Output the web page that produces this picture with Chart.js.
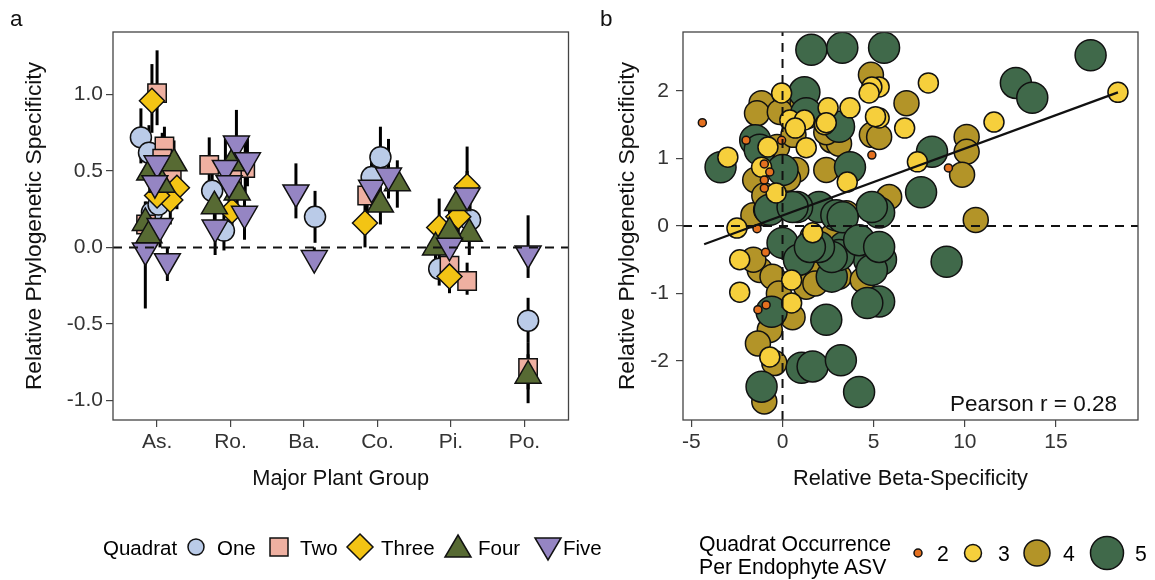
<!DOCTYPE html>
<html><head><meta charset="utf-8">
<script src="https://cdn.jsdelivr.net/npm/chart.js@4.4.0/dist/chart.umd.min.js"></script>
<style>
body{margin:0;background:#fff;width:1155px;height:580px;position:relative;overflow:hidden;font-family:'Liberation Sans',Arial,sans-serif;color:#111}
canvas{position:absolute;top:0}
#ca{left:0}
#cb{left:590px}
.lbl{position:absolute;font-size:22.5px;line-height:1}
svg{position:absolute;left:0;top:0}
</style></head><body>
<canvas id="ca" width="585" height="500"></canvas>
<canvas id="cb" width="565" height="500"></canvas>
<div class="lbl" style="left:10px;top:8px">a</div>
<div class="lbl" style="left:600px;top:8px">b</div>
<div class="lbl" style="left:950px;top:393px">Pearson r = 0.28</div>
<svg width="1155" height="580" font-family="Liberation Sans, Arial, sans-serif" font-size="20.5">
  <g stroke="#111" stroke-width="1.5">
    <text x="103" y="547" dominant-baseline="central" stroke="none">Quadrat</text>
    <circle cx="196" cy="547" r="8" fill="#bacbe8"/>
    <text x="217" y="547" dominant-baseline="central" stroke="none">One</text>
    <rect x="270" y="538" width="18" height="18" fill="#efb0a1"/>
    <text x="300" y="547" dominant-baseline="central" stroke="none">Two</text>
    <polygon points="360,534 373,547 360,560 347,547" fill="#f3c414"/>
    <text x="381" y="547" dominant-baseline="central" stroke="none">Three</text>
    <polygon points="458,535 471,557 445,557" fill="#576a33"/>
    <text x="478" y="547" dominant-baseline="central" stroke="none">Four</text>
    <polygon points="535,538 561,538 548,560" fill="#9585c3"/>
    <text x="563" y="547" dominant-baseline="central" stroke="none">Five</text>
  </g>
  <g stroke="#111" stroke-width="1.5" font-size="21.2">
    <text x="699" y="543" dominant-baseline="central" stroke="none">Quadrat Occurrence</text>
    <text x="699" y="566" dominant-baseline="central" stroke="none">Per Endophyte ASV</text>
    <circle cx="918" cy="553" r="4" fill="#e4701f"/>
    <text x="937" y="553" dominant-baseline="central" stroke="none">2</text>
    <circle cx="973" cy="553" r="8.5" fill="#f6cf3c"/>
    <text x="998" y="553" dominant-baseline="central" stroke="none">3</text>
    <circle cx="1037" cy="553" r="13" fill="#b39428"/>
    <text x="1063" y="553" dominant-baseline="central" stroke="none">4</text>
    <circle cx="1107" cy="553" r="16.5" fill="#40694a"/>
    <text x="1135" y="553" dominant-baseline="central" stroke="none">5</text>
  </g>
</svg>
<script>
Chart.defaults.font.family = "'Liberation Sans', Arial, sans-serif";
Chart.defaults.color = '#333';

// ---- panel a : specificity by plant group and quadrat ----
const groups = ["As.", "Ro.", "Ba.", "Co.", "Pi.", "Po."];
const yTicksA = [-1.0, -0.5, 0.0, 0.5, 1.0];

// x = group number + jitter, y = estimate, lo/hi = error bar ends
const oneX  = [0.78, 0.89, 0.93, 1.02, 1.75, 1.91, 3.15, 4.04, 3.92, 5.26, 4.84, 6.05];
const oneY  = [0.72, 0.62, 0.23, 0.28, 0.37, 0.11, 0.20, 0.59, 0.46, 0.18, -0.14, -0.48];
const oneLo = [0.55, 0.45, 0.10, 0.15, 0.22, -0.02, 0.03, 0.45, 0.32, 0.05, -0.25, -0.62];
const oneHi = [0.91, 0.80, 0.36, 0.42, 0.50, 0.25, 0.37, 0.79, 0.60, 0.30, -0.03, -0.33];

const twoX  = [1.00, 1.10, 1.20, 0.85, 1.07, 1.71, 2.20, 2.02, 3.86, 4.98, 5.22, 6.05];
const twoY  = [1.01, 0.66, 0.47, 0.15, 0.58, 0.54, 0.52, 0.47, 0.34, -0.12, -0.22, -0.79];
const twoLo = [0.80, 0.50, 0.33, 0.00, 0.45, 0.40, 0.35, 0.30, 0.20, -0.25, -0.31, -0.93];
const twoHi = [1.29, 0.79, 0.72, 0.30, 0.75, 0.72, 0.72, 0.60, 0.50, 0.02, -0.10, -0.62];

const threeX  = [0.93, 1.27, 1.18, 1.00, 2.02, 3.83, 5.22, 5.10, 4.84, 4.98];
const threeY  = [0.96, 0.39, 0.31, 0.34, 0.24, 0.16, 0.40, 0.20, 0.13, -0.19];
const threeLo = [0.75, 0.25, 0.15, 0.20, 0.10, 0.00, 0.22, 0.05, -0.05, -0.30];
const threeHi = [1.20, 0.60, 0.50, 0.55, 0.40, 0.38, 0.66, 0.35, 0.32, -0.05];

const fourX  = [0.84, 0.89, 0.90, 1.23, 1.07, 2.02, 2.09, 1.78, 4.27, 4.04, 5.09, 5.25, 4.98, 4.79, 6.05];
const fourY  = [0.16, 0.08, 0.49, 0.55, 0.41, 0.55, 0.36, 0.27, 0.42, 0.28, 0.29, 0.09, 0.10, 0.00, -0.84];
const fourLo = [0.00, -0.05, 0.35, 0.40, 0.28, 0.40, 0.20, 0.12, 0.26, 0.15, 0.15, -0.05, -0.05, -0.12, -1.02];
const fourHi = [0.30, 0.20, 0.65, 0.70, 0.55, 0.70, 0.50, 0.40, 0.57, 0.40, 0.42, 0.22, 0.25, 0.13, -0.70];

const fiveX  = [1.00, 0.97, 1.04, 0.84, 1.14, 2.08, 2.23, 1.93, 1.98, 2.19, 1.79, 2.89, 3.14, 3.92, 4.15, 5.22, 4.98, 6.05];
const fiveY  = [0.55, 0.42, 0.14, -0.02, -0.09, 0.68, 0.57, 0.52, 0.42, 0.22, 0.13, 0.36, -0.07, 0.39, 0.47, 0.34, 0.01, -0.04];
const fiveLo = [0.40, 0.28, 0.00, -0.40, -0.22, 0.55, 0.40, 0.38, 0.25, 0.05, -0.05, 0.19, -0.15, 0.25, 0.32, 0.20, -0.10, -0.20];
const fiveHi = [0.72, 0.58, 0.30, 0.15, 0.00, 0.90, 0.72, 0.72, 0.55, 0.35, 0.30, 0.55, 0.00, 0.55, 0.71, 0.50, 0.15, 0.21];

// ---- panel b : beta-specificity vs phylogenetic specificity ----
const xTicksB = [-5, 0, 5, 10, 15];
const yTicksB = [-2, -1, 0, 1, 2];

const occ5X = [1.58, 3.28, 5.57, 16.9, 12.8, 13.7, 8.2, 7.6, 9.0, 5.3, 5.4, 5.3, 1.2, -3.4, -1.5, -1.25, 0.0, 3.7, 3.1, 1.3,
               2.0, 0.8, 2.95, 4.9, 0.0, 0.9, 3.4, 4.75, -0.7, -0.6, -1.15, 1.05, 1.65, 3.2, 4.2, 2.4, 4.65, 2.7, 4.9, 3.1,
               0.55, 3.3, 2.7, 4.2, 2.0, 1.5, 5.3];
const occ5Y = [2.61, 2.64, 2.64, 2.53, 2.12, 1.90, 1.10, 0.50, -0.53, 0.20, -0.50, -1.12, 1.98, 0.87, 1.27, 1.13, 0.83, 0.87, 1.47, 1.67,
               0.28, 0.28, 0.16, 0.28, -0.25, -0.50, -0.31, -0.50, 0.24, -1.27, -2.38, -2.10, -2.08, -1.99, -2.46, -1.39, -1.14, -0.75, -0.65, -0.43,
               0.28, 0.13, -0.46, -0.21, -0.31, -0.31, -0.31];

const occ4X = [-1.15, 0.2, 1.1, 2.7, 3.1, 4.9, 2.4, 0.75, -1.5, -0.7, -1.1, -1.25, -1.6, -0.55, 1.3, 0.55, -0.7, -1.35, -0.45, -1.0,
               5.85, 2.0, 3.1, 4.4, 1.65, 3.5, -0.3, -1.4, 4.85, 6.8, 10.1, 10.1, 9.85, 10.6, 5.3, -0.15, 2.4, -1.6, -0.9, 2.7,
               -1.0, 0.3, -0.2, 1.8, 0.6];
const occ4Y = [1.82, 1.77, 1.82, 1.27, 1.22, 1.35, 0.83, 0.83, 0.68, 0.28, 0.19, -0.65, -0.50, -0.75, -0.90, -1.35, -1.54, -1.74, -2.03, -2.60,
               0.43, -0.60, -0.75, -0.80, -0.16, 0.19, 1.17, 1.67, 2.24, 1.82, 1.32, 1.10, 0.76, 0.09, 1.32, 1.69, 1.39, 0.16, 0.24, -0.16,
               0.45, 0.70, -1.00, -0.85, 1.35];

const occ3X = [18.4, 11.6, 8.0, 6.7, 7.4, 5.3, 5.3, 4.9, 4.75, 3.7, 5.1, -0.05, 0.4, 1.2, 2.3, -0.8, 1.3, -3.0, -1.15, 3.55,
               -0.35, -2.5, 1.65, 2.5, -2.35, -2.35, 0.5, 0.5, -0.7, 2.4, 0.7];
const occ3Y = [1.98, 1.54, 2.12, 1.45, 0.95, 1.60, 2.06, 2.06, 1.97, 1.75, 1.62, 1.97, 1.57, 1.57, 1.50, 1.17, 1.16, 1.02, 0.87, 0.65,
               0.49, -0.03, -0.10, 1.75, -0.50, -0.98, -0.80, -1.14, -1.94, 1.53, 1.45];

const occ2X = [-4.4, -2.0, -0.05, -1.0, -0.7, -1.0, -1.0, -1.4, -0.93, -0.9, -1.35, 4.9, 9.1];
const occ2Y = [1.53, 1.27, 1.27, 0.92, 0.80, 0.68, 0.56, -0.04, -0.39, -1.17, -1.24, 1.05, 0.86];

// fitted line ends
const fitX = [-4.3, 18.4];
const fitY = [-0.27, 1.98];

function pts(xs, ys, lo, hi) {
    return xs.map((x, i) => ({x: x, y: ys[i], lo: lo ? lo[i] : null, hi: hi ? hi[i] : null}));
}

const frame = {
    id: 'frame',
    afterDraw(chart) {
        const a = chart.chartArea, ctx = chart.ctx;
        ctx.save();
        ctx.strokeStyle = '#444';
        ctx.lineWidth = 1.3;
        ctx.strokeRect(a.left, a.top, a.right - a.left, a.bottom - a.top);
        ctx.restore();
    }
};

// vertical error bars under the points
const errBars = {
    id: 'errBars',
    beforeDatasetsDraw(chart) {
        const ctx = chart.ctx, xs = chart.scales.x, ys = chart.scales.y;
        ctx.save();
        ctx.strokeStyle = '#000';
        ctx.lineWidth = 3;
        chart.data.datasets.forEach(ds => {
            if (!ds.bars) return;
            ds.data.forEach(p => {
                const px = xs.getPixelForValue(p.x);
                ctx.beginPath();
                ctx.moveTo(px, ys.getPixelForValue(p.lo));
                ctx.lineTo(px, ys.getPixelForValue(p.hi));
                ctx.stroke();
            });
        });
        ctx.restore();
    }
};

function quadSet(label, data, style, color, radius, order, rot) {
    return {
        label: label, data: data, bars: true, order: order,
        pointStyle: style, pointRotation: rot || 0, pointRadius: radius,
        pointBackgroundColor: color, pointBorderColor: '#111', pointBorderWidth: 1.5
    };
}

function dashed(data) {
    return {
        data: data, showLine: true, pointRadius: 0, order: 0,
        borderColor: '#111', borderWidth: 2, borderDash: [9, 7]
    };
}

const tickFont = {size: 21};
const titleFont = {size: 21.8};
const yTitleFont = {size: 22.8};
const tickGrid = {drawOnChartArea: false, tickLength: 7, color: '#444', lineWidth: 1.2};

const gA = new Chart('ca', {
    type: 'scatter',
    data: {
        datasets: [
            dashed([{x: 0.4, y: 0}, {x: 6.6, y: 0}]),
            quadSet('Five', pts(fiveX, fiveY, fiveLo, fiveHi), 'triangle', '#9585c3', 15, 1, 180),
            quadSet('Four', pts(fourX, fourY, fourLo, fourHi), 'triangle', '#576a33', 15, 2),
            quadSet('Three', pts(threeX, threeY, threeLo, threeHi), 'rectRot', '#f3c414', 12.5, 3),
            quadSet('Two', pts(twoX, twoY, twoLo, twoHi), 'rect', '#efb0a1', 13, 4),
            quadSet('One', pts(oneX, oneY, oneLo, oneHi), 'circle', '#bacbe8', 10.5, 5)
        ]
    },
    options: {
        responsive: false, animation: false, events: [],
        layout: {padding: {top: 32, right: 16, left: 0, bottom: 0}},
        plugins: {legend: {display: false}, tooltip: {enabled: false}},
        scales: {
            x: {
                type: 'linear', min: 0.4, max: 6.6,
                afterBuildTicks: s => { s.ticks = groups.map((g, i) => ({value: i + 1})); },
                afterFit: s => { s.height = 80; },
                ticks: {font: tickFont, padding: 3, callback: (v, i) => groups[i]},
                grid: tickGrid,
                border: {display: false},
                title: {display: true, text: 'Major Plant Group', font: titleFont, color: '#111', padding: {top: 0, bottom: 8}}
            },
            y: {
                min: -1.13, max: 1.41,
                afterBuildTicks: s => { s.ticks = yTicksA.map(v => ({value: v})); },
                afterFit: s => { s.width = 113; },
                ticks: {font: tickFont, padding: 3, callback: v => v.toFixed(1)},
                grid: tickGrid,
                border: {display: false},
                title: {display: true, text: 'Relative Phylogenetic Specificity', font: yTitleFont, color: '#111', padding: {top: 21, bottom: 0}}
            }
        }
    },
    plugins: [errBars, frame]
});

function occSet(label, xs, ys, color, radius, order) {
    return {
        label: label, data: pts(xs, ys), order: order, pointRadius: radius,
        pointBackgroundColor: color, pointBorderColor: '#111', pointBorderWidth: 1.5
    };
}

const gB = new Chart('cb', {
    type: 'scatter',
    data: {
        datasets: [
            dashed([{x: -5.46, y: 0}, {x: 19.5, y: 0}]),
            dashed([{x: 0, y: -2.874}, {x: 0, y: 2.874}]),
            {data: pts(fitX, fitY), showLine: true, pointRadius: 0, order: 0, borderColor: '#111', borderWidth: 2.2},
            occSet('2', occ2X, occ2Y, '#e4701f', 4, 1),
            occSet('3', occ3X, occ3Y, '#f6cf3c', 10, 2),
            occSet('5', occ5X, occ5Y, '#40694a', 15.5, 3),
            occSet('4', occ4X, occ4Y, '#b39428', 12.5, 4)
        ]
    },
    options: {
        responsive: false, animation: false, events: [],
        layout: {padding: {top: 32, right: 15, left: 0, bottom: 0}},
        plugins: {legend: {display: false}, tooltip: {enabled: false}},
        scales: {
            x: {
                type: 'linear', min: -5.46, max: 19.5,
                afterBuildTicks: s => { s.ticks = xTicksB.map(v => ({value: v})); },
                afterFit: s => { s.height = 80; },
                ticks: {font: tickFont, padding: 3},
                grid: tickGrid,
                border: {display: false},
                title: {display: true, text: 'Relative Beta-Specificity', font: titleFont, color: '#111', padding: {top: 0, bottom: 8}}
            },
            y: {
                min: -2.874, max: 2.874,
                afterBuildTicks: s => { s.ticks = yTicksB.map(v => ({value: v})); },
                afterFit: s => { s.width = 93; },
                ticks: {font: tickFont, padding: 7},
                grid: tickGrid,
                border: {display: false},
                title: {display: true, text: 'Relative Phylogenetic Specificity', font: yTitleFont, color: '#111', padding: {top: 24, bottom: 0}}
            }
        }
    },
    plugins: [frame]
});
</script>
</body></html>
